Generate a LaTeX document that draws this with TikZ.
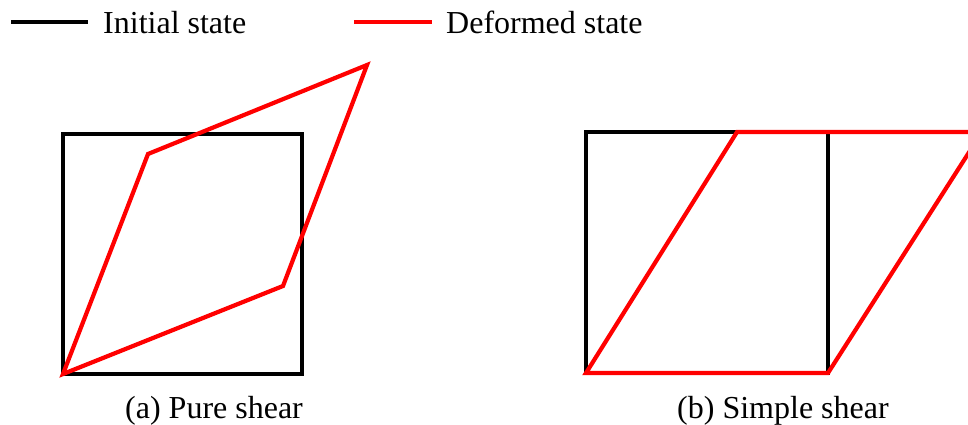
\documentclass[tikz,border=0pt]{standalone}
\usepackage{fontspec}
\setmainfont{Liberation Serif}
\newfontfamily\tnrfont{Liberation Serif}
\begin{document}
\begin{tikzpicture}[x=1pt,y=-1pt,
  initial/.style={black, line width=4.2pt, line join=miter},
  deformed/.style={red, line width=4.2pt, line join=miter},
  lbl/.style={inner sep=0pt, anchor=base west, font=\tnrfont\fontsize{32}{38}\selectfont}]
\useasboundingbox (0,0) rectangle (968,425);
\begin{scope}
\clip (0,0) rectangle (968,425);
% legend
\coordinate (l1a) at (11,22); \coordinate (l1b) at (88,22);
\coordinate (l2a) at (354,22); \coordinate (l2b) at (432,22);
\draw[initial] (l1a) -- (l1b);
\draw[deformed] (l2a) -- (l2b);
\node[lbl] (t1) at (103,34) {Initial state};
\node[lbl] (t2) at (446,34) {Deformed state};
% (a) pure shear
\coordinate (a1) at (63,374);
\coordinate (a2) at (302,374);
\coordinate (a3) at (302,134);
\coordinate (a4) at (63,134);
\draw[initial] (a1) -- (a2) -- (a3) -- (a4) -- cycle;
\coordinate (p1) at (63,374);
\coordinate (p2) at (283,286);
\coordinate (p3) at (367,65);
\coordinate (p4) at (148,154);
\draw[deformed] (p1) -- (p2) -- (p3) -- (p4) -- cycle;
% (b) simple shear
\coordinate (b1) at (586,373);
\coordinate (b2) at (828,373);
\coordinate (b3) at (828,132);
\coordinate (b4) at (586,132);
\draw[initial] (b1) -- (b2) -- (b3) -- (b4) -- cycle;
\coordinate (s1) at (586,373);
\coordinate (s2) at (828,373);
\coordinate (s3) at (982,132);
\coordinate (s4) at (737,132);
\draw[deformed] (s1) -- (s2) -- (s3) -- (s4) -- cycle;
% captions
\node[lbl] (ca) at (125,418) {(a) Pure shear};
\node[lbl] (cb) at (677,418) {(b) Simple shear};
\end{scope}
\end{tikzpicture}
\end{document}
